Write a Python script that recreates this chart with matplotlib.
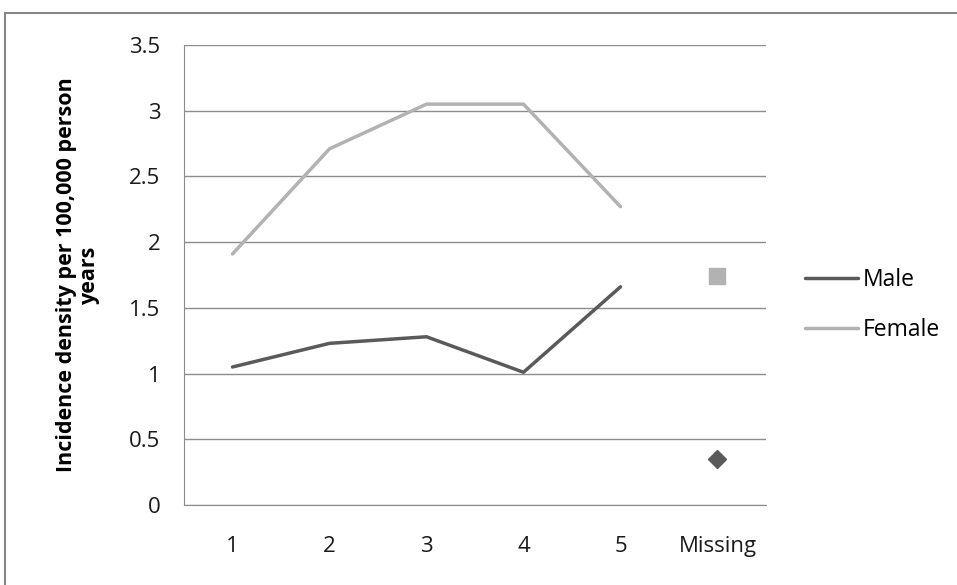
import matplotlib
matplotlib.use("Agg")
import matplotlib.pyplot as plt
from matplotlib.lines import Line2D

categories = ["1", "2", "3", "4", "5", "Missing"]
male = [1.05, 1.23, 1.28, 1.01, 1.66]
female = [1.91, 2.71, 3.05, 3.05, 2.27]
male_missing = 0.35
female_missing = 1.745
yticks = [0, 0.5, 1, 1.5, 2, 2.5, 3, 3.5]
ytick_labels = ["0", "0.5", "1", "1.5", "2", "2.5", "3", "3.5"]

plt.rcParams['font.family'] = ['Open Sans', 'DejaVu Sans']

fig = plt.figure(figsize=(9.57, 5.85), dpi=100)
ax = fig.add_axes([184/957, 80/585, 582/957, 460/585])

male_c = "#5a5a5a"
female_c = "#b2b2b2"
xs = list(range(1, 6))
ax.plot(xs, male, color=male_c, lw=2.5, label="Male", solid_capstyle="round")
ax.plot(xs, female, color=female_c, lw=2.5, label="Female", solid_capstyle="round")
ax.plot([6], [female_missing], marker="s", color=female_c, markersize=12, linestyle="none")
ax.plot([6], [male_missing], marker="D", color=male_c, markersize=9.2, linestyle="none")

ax.set_xlim(0.5, 6.5)
ax.set_ylim(0, 3.5)
ax.set_xticks(range(1, 7))
ax.set_xticklabels(categories, fontsize=16, color="#1a1a1a")
ax.set_yticks(yticks)
ax.set_yticklabels(ytick_labels, fontsize=16, color="#1a1a1a")
ax.tick_params(axis="x", length=0, pad=22)
ax.tick_params(axis="y", length=0, pad=17)
ax.yaxis.grid(True, color="#8c8c8c", lw=1)
ax.set_axisbelow(True)
for s in ["top", "right"]:
    ax.spines[s].set_visible(False)
ax.spines["bottom"].set_color("#8c8c8c")
ax.spines["left"].set_color("#8c8c8c")

ax.set_ylabel("Incidence density per 100,000 person\nyears", fontsize=15.5,
              fontweight="bold", labelpad=21, linespacing=1.15)

leg = ax.legend(loc="center left", bbox_to_anchor=(1.067, 0.435), frameon=False,
                fontsize=16.5, handlelength=2.3, handletextpad=0.2, labelspacing=1.15,
                borderpad=0, borderaxespad=0)

fig.add_artist(Line2D([5/957, 1], [1-13/585, 1-13/585], transform=fig.transFigure,
                      color="#868686", lw=1.5))
fig.add_artist(Line2D([5/957, 5/957], [0, 1-13/585], transform=fig.transFigure,
                      color="#868686", lw=1.5))

fig.savefig("out.png", dpi=100)
